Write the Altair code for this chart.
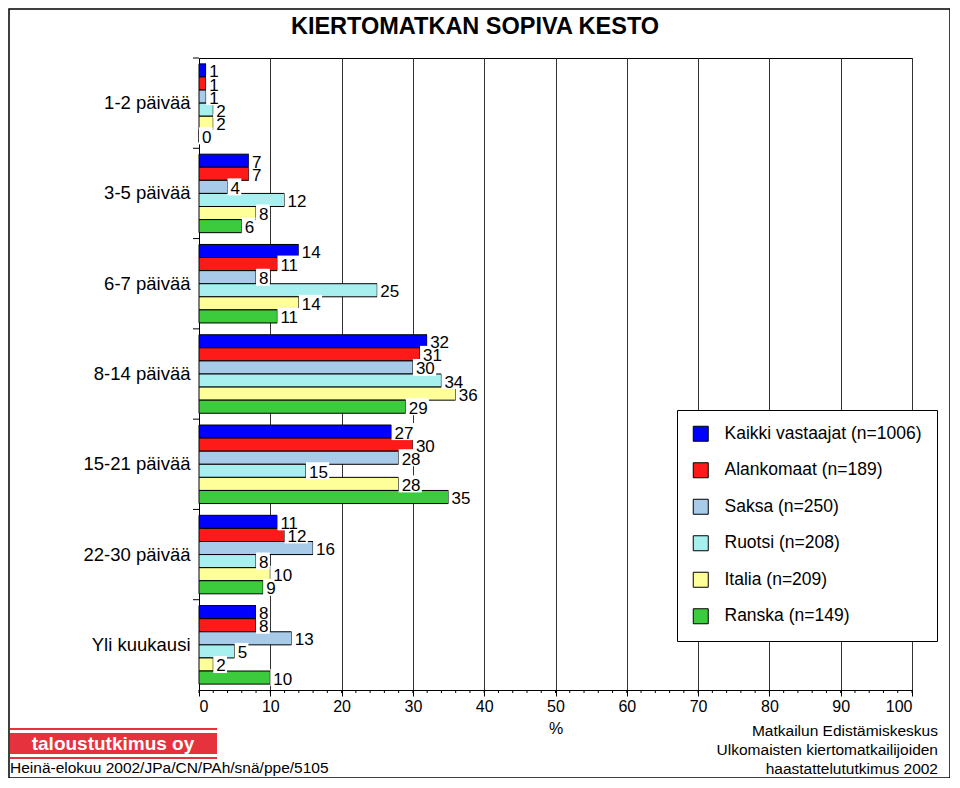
import altair as alt
import pandas as pd

categories = ["1-2 päivää", "3-5 päivää", "6-7 päivää", "8-14 päivää",
              "15-21 päivää", "22-30 päivää", "Yli kuukausi"]
series = ["Kaikki vastaajat (n=1006)", "Alankomaat (n=189)", "Saksa (n=250)",
          "Ruotsi (n=208)", "Italia (n=209)", "Ranska (n=149)"]
kaikki = [1, 7, 14, 32, 27, 11, 8]
alankomaat = [1, 7, 11, 31, 30, 12, 8]
saksa = [1, 4, 8, 30, 28, 16, 13]
ruotsi = [2, 12, 25, 34, 15, 8, 5]
italia = [2, 8, 14, 36, 28, 10, 2]
ranska = [0, 6, 11, 29, 35, 9, 10]
colors = ["#0000FF", "#FF1A1A", "#A9CBEA", "#A8F0F0", "#FFFF99", "#3CCB3C"]
x_ticks = list(range(0, 101, 10))
minor_ticks = list(range(0, 101, 2))

values = [kaikki, alankomaat, saksa, ruotsi, italia, ranska]
rows = []
for s, vals in zip(series, values):
    for c, v in zip(categories, vals):
        rows.append({"cat": c, "series": s, "value": v, "label": str(v)})
df = pd.DataFrame(rows)

FONT = "Liberation Sans, Arial"
NARROW = "Liberation Sans Narrow, Arial Narrow, Liberation Sans"
W, H = 713, 632

yenc = alt.Y("cat:N", sort=categories,
             scale=alt.Scale(paddingInner=0, paddingOuter=0),
             axis=alt.Axis(title=None, ticks=False, labelFontSize=18.5,
                           labelFont=FONT, labelColor="black", labelPadding=9,
                           domainColor="black"))
yoff = alt.YOffset("series:N", sort=series,
                   scale=alt.Scale(paddingInner=0, paddingOuter=0.45))

base = alt.Chart(df)

bars = base.mark_bar(stroke="black", strokeWidth=1).encode(
    x=alt.X("value:Q", scale=alt.Scale(domain=[0, 100], nice=False),
            axis=alt.Axis(values=x_ticks, title="%", titleFontSize=16,
                          titleFont=FONT, titleFontWeight="normal",
                          titlePadding=6, labelFontSize=16, labelFont=FONT,
                          labelColor="black", labelPadding=2,
                          grid=True, gridColor="#333333", gridWidth=1,
                          tickColor="black", tickSize=6, domainColor="black")),
    y=yenc,
    yOffset=yoff,
    fill=alt.Fill("series:N", sort=series,
                  scale=alt.Scale(domain=series, range=colors),
                  legend=alt.Legend(title=None, orient="none", legendX=478,
                                    legendY=352, symbolType="square",
                                    symbolSize=225, symbolStrokeColor="black",
                                    symbolStrokeWidth=1, labelFontSize=17.5,
                                    labelFont=FONT, labelColor="black",
                                    labelOffset=15, rowPadding=16.5,
                                    labelLimit=400,
                                    padding=15, strokeColor="black",
                                    fillColor="white")),
)

boxes = base.transform_calculate(
    x2v="datum.value + 0.3 + length(datum.label) * 1.33 + 0.3"
).mark_bar(color="white", height=17).encode(
    x=alt.X("value:Q", scale=alt.Scale(domain=[0, 100], nice=False)),
    x2="x2v:Q",
    y=alt.Y("cat:N", sort=categories),
    yOffset=alt.YOffset("series:N", sort=series),
)

labels = base.mark_text(align="left", baseline="middle", dx=3, dy=2,
                        fontSize=17, font=FONT, color="black").encode(
    x="value:Q",
    y=alt.Y("cat:N", sort=categories),
    yOffset=alt.YOffset("series:N", sort=series),
    text="label:N",
)

cat_df = pd.DataFrame({"cat": categories})
yticks = alt.Chart(cat_df).mark_rule(color="black").encode(
    y=alt.Y("cat:N", sort=categories, bandPosition=0),
    x=alt.value(-6), x2=alt.value(0),
)

minor_df = pd.DataFrame({"t": minor_ticks})
xminor = alt.Chart(minor_df).mark_rule(color="black").encode(
    x=alt.X("t:Q"),
    y=alt.value(H), y2=alt.value(H + 3),
)

one = pd.DataFrame({"a": [0]})


def txt(text, x, y, size=15, align="left", font=FONT, weight="normal",
        color="black"):
    return alt.Chart(one).mark_text(text=text, align=align, baseline="middle",
                                    fontSize=size, font=font,
                                    fontWeight=weight, color=color).encode(
        x=alt.value(x), y=alt.value(y))


def rect(x, x2, y, y2, fill=None, stroke=None, sw=1):
    kw = {}
    if fill is not None:
        kw["fill"] = fill
    else:
        kw["fill"] = "transparent"
    if stroke is not None:
        kw["stroke"] = stroke
        kw["strokeWidth"] = sw
    return alt.Chart(one).mark_rect(**kw).encode(
        x=alt.value(x), x2=alt.value(x2), y=alt.value(y), y2=alt.value(y2))


frame = rect(-190, 751, -49, 720, stroke="black", sw=1.5)
logo_line1 = rect(-189, 18, 670, 672, fill="#E5323C")
logo_box = rect(-189, 18, 675, 696, fill="#E5323C")
logo_line2 = rect(-189, 18, 699, 701, fill="#E5323C")
logo_text = txt("taloustutkimus oy", -86, 686, size=19, align="center",
                weight="bold", color="white")
title = txt("KIERTOMATKAN SOPIVA KESTO", 276, -31, size=23.5, align="center",
            weight="bold")
left_note = txt("Heinä-elokuu 2002/JPa/CN/PAh/snä/ppe/5105", -189, 710,
                size=15.5, font=NARROW)
r1 = txt("Matkailun Edistämiskeskus", 739, 673, size=15.5, align="right",
         font=NARROW)
r2 = txt("Ulkomaisten kiertomatkailijoiden", 739, 692, size=15.5,
         align="right", font=NARROW)
r3 = txt("haastattelututkimus 2002", 739, 711, size=15.5, align="right",
         font=NARROW)

chart = alt.layer(
    bars, boxes, labels, yticks, xminor, frame, logo_line1, logo_box,
    logo_line2, logo_text, title, left_note, r1, r2, r3
).properties(
    width=W, height=H,
    autosize=alt.AutoSizeParams(type="none"),
    padding={"left": 191, "top": 50, "right": 38, "bottom": 88},
    background="white",
).configure_view(stroke="black", strokeWidth=1)

chart.save("out.html", embed_options={"renderer": "svg", "actions": False})
